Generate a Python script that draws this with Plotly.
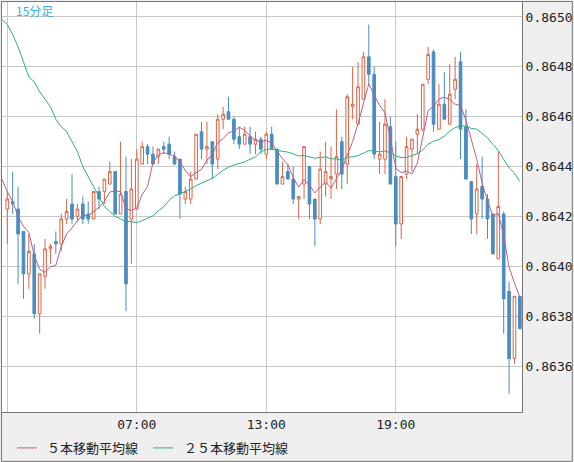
import pandas as pd
import plotly.graph_objects as go

# ---------------- data (15-minute bars) ----------------
START = "2024-01-15 01:00"
N_BARS = 96

opens = [0.86423, 0.86426, 0.86423, 0.86414, 0.86397, 0.86405, 0.86381, 0.86396, 0.86407, 0.86410,
         0.86409, 0.86419, 0.86425, 0.86420, 0.86425, 0.86421, 0.86419, 0.86430, 0.86430, 0.86433,
         0.86438, 0.86421, 0.86430, 0.86419, 0.86423, 0.86441, 0.86448, 0.86445, 0.86444, 0.86448,
         0.86449, 0.86444, 0.86443, 0.86427, 0.86427, 0.86435, 0.86454, 0.86447, 0.86450, 0.86443,
         0.86459, 0.86462, 0.86459, 0.86452, 0.86449, 0.86452, 0.86449, 0.86451, 0.86445, 0.86453,
         0.86447, 0.86433, 0.86438, 0.86435, 0.86427, 0.86433, 0.86440, 0.86427, 0.86419, 0.86433,
         0.86435, 0.86437, 0.86450, 0.86441, 0.86464, 0.86457, 0.86467, 0.86484, 0.86477, 0.86443,
         0.86443, 0.86456, 0.86436, 0.86417, 0.86437, 0.86447, 0.86453, 0.86455, 0.86475, 0.86486,
         0.86455, 0.86465, 0.86457, 0.86471, 0.86482, 0.86456, 0.86434, 0.86421, 0.86432, 0.86427,
         0.86421, 0.86403, 0.86421, 0.86390, 0.86363, 0.86388]

highs = [0.86430, 0.86438, 0.86432, 0.86414, 0.86413, 0.86409, 0.86397, 0.86411, 0.86409, 0.86414,
         0.86421, 0.86427, 0.86437, 0.86425, 0.86428, 0.86426, 0.86430, 0.86432, 0.86435, 0.86442,
         0.86438, 0.86450, 0.86444, 0.86443, 0.86447, 0.86450, 0.86449, 0.86448, 0.86447, 0.86450,
         0.86452, 0.86446, 0.86443, 0.86432, 0.86438, 0.86453, 0.86458, 0.86458, 0.86450, 0.86461,
         0.86464, 0.86468, 0.86460, 0.86456, 0.86456, 0.86456, 0.86454, 0.86452, 0.86454, 0.86456,
         0.86447, 0.86442, 0.86441, 0.86440, 0.86428, 0.86448, 0.86440, 0.86427, 0.86446, 0.86450,
         0.86448, 0.86463, 0.86452, 0.86469, 0.86480, 0.86482, 0.86486, 0.86497, 0.86480, 0.86458,
         0.86467, 0.86460, 0.86450, 0.86436, 0.86452, 0.86451, 0.86461, 0.86473, 0.86488, 0.86487,
         0.86473, 0.86478, 0.86481, 0.86484, 0.86486, 0.86463, 0.86434, 0.86441, 0.86444, 0.86429,
         0.86421, 0.86446, 0.86422, 0.86394, 0.86388, 0.86388]

lows = [0.86409, 0.86421, 0.86393, 0.86387, 0.86391, 0.86379, 0.86373, 0.86391, 0.86401, 0.86405,
        0.86406, 0.86417, 0.86417, 0.86418, 0.86417, 0.86417, 0.86419, 0.86423, 0.86425, 0.86433,
        0.86421, 0.86421, 0.86382, 0.86401, 0.86423, 0.86441, 0.86441, 0.86441, 0.86441, 0.86445,
        0.86443, 0.86441, 0.86419, 0.86425, 0.86425, 0.86435, 0.86443, 0.86441, 0.86435, 0.86439,
        0.86455, 0.86459, 0.86449, 0.86447, 0.86449, 0.86445, 0.86445, 0.86445, 0.86443, 0.86447,
        0.86433, 0.86433, 0.86435, 0.86425, 0.86419, 0.86427, 0.86419, 0.86408, 0.86417, 0.86428,
        0.86427, 0.86431, 0.86431, 0.86433, 0.86459, 0.86457, 0.86467, 0.86473, 0.86443, 0.86437,
        0.86437, 0.86433, 0.86408, 0.86411, 0.86435, 0.86438, 0.86445, 0.86454, 0.86473, 0.86454,
        0.86455, 0.86459, 0.86457, 0.86467, 0.86443, 0.86435, 0.86413, 0.86413, 0.86419, 0.86411,
        0.86405, 0.86403, 0.86373, 0.86349, 0.86361, 0.86375]

closes = [0.86427, 0.86425, 0.86413, 0.86397, 0.86406, 0.86381, 0.86397, 0.86407, 0.86408, 0.86409,
          0.86419, 0.86422, 0.86419, 0.86423, 0.86419, 0.86419, 0.86430, 0.86427, 0.86435, 0.86438,
          0.86421, 0.86429, 0.86393, 0.86431, 0.86443, 0.86448, 0.86445, 0.86441, 0.86447, 0.86447,
          0.86445, 0.86441, 0.86429, 0.86430, 0.86435, 0.86453, 0.86447, 0.86448, 0.86441, 0.86459,
          0.86461, 0.86459, 0.86451, 0.86449, 0.86453, 0.86449, 0.86451, 0.86447, 0.86453, 0.86447,
          0.86433, 0.86436, 0.86435, 0.86427, 0.86428, 0.86448, 0.86425, 0.86419, 0.86439, 0.86438,
          0.86436, 0.86444, 0.86437, 0.86468, 0.86465, 0.86472, 0.86484, 0.86477, 0.86445, 0.86445,
          0.86457, 0.86433, 0.86417, 0.86436, 0.86448, 0.86451, 0.86455, 0.86473, 0.86485, 0.86457,
          0.86465, 0.86459, 0.86469, 0.86475, 0.86455, 0.86435, 0.86419, 0.86431, 0.86427, 0.86419,
          0.86405, 0.86424, 0.86387, 0.86363, 0.86388, 0.86375]

# moving-average values read from the picture where earlier history is off-chart
# (first point = the bar before 01:00)
ma5_head = [0.86435, 0.86430, 0.86426, 0.86420, 0.86416]
ma25_head = [0.86499, 0.86497, 0.86493, 0.86488, 0.86482, 0.86476, 0.86474, 0.86470, 0.86467,
             0.86464, 0.86459, 0.86456, 0.86454, 0.86450, 0.86446, 0.86440, 0.86436, 0.86432,
             0.86428, 0.86424, 0.86422, 0.86420, 0.86419, 0.86418, 0.86418]

y_ticks = [0.8636, 0.8638, 0.8640, 0.8642, 0.8644, 0.8646, 0.8648, 0.8650]
y_tick_labels = ["0.8636", "0.8638", "0.8640", "0.8642", "0.8644", "0.8646", "0.8648", "0.8650"]
x_ticks = ["2024-01-15 01:00", "2024-01-15 07:00", "2024-01-15 13:00", "2024-01-15 19:00"]
x_tick_labels = ["", "07:00", "13:00", "19:00"]

timeframe_label = "15分足"
ma5_name = "５本移動平均線"
ma25_name = "２５本移動平均線"

# ---------------- derived series ----------------
times = pd.date_range(START, periods=N_BARS, freq="15min")
times_ma = [times[0] - pd.Timedelta(minutes=15)] + list(times)
close_s = pd.Series(closes)
ma5 = ma5_head + list(close_s.rolling(5).mean().iloc[4:])
ma25 = ma25_head + list(close_s.rolling(25).mean().iloc[24:])

# ---------------- styling ----------------
RED = "#dc6446"
BLUE = "#4a8cc0"
PINK = "#b65e8e"
GREEN = "#2bb07a"
GRID = "#c8c8c8"
BORDER = "#777777"
PANEL = "#efefef"
MONO = "DejaVu Sans Mono"
CJK = "Noto Sans CJK JP"

W, H = 574, 462
ML, MR, MT, MB = 1, 51, 1, 50
PW, PH = W - ML - MR, H - MT - MB


def px_x(px):
    return (px - ML) / PW


def px_y(py):
    return (H - MB - py) / PH


fig = go.Figure()
fig.add_trace(go.Candlestick(
    x=times, open=opens, high=highs, low=lows, close=closes,
    increasing=dict(line=dict(color=RED, width=1), fillcolor="white"),
    decreasing=dict(line=dict(color=BLUE, width=1), fillcolor=BLUE),
    whiskerwidth=0, showlegend=False, hoverinfo="skip",
))
fig.add_trace(go.Scatter(x=times_ma, y=ma5, mode="lines", name=ma5_name,
                         line=dict(color=PINK, width=1), showlegend=False, hoverinfo="skip"))
fig.add_trace(go.Scatter(x=times_ma, y=ma25, mode="lines", name=ma25_name,
                         line=dict(color=GREEN, width=1), showlegend=False, hoverinfo="skip"))

shapes = [
    # outer frame of the widget
    dict(type="rect", xref="paper", yref="paper",
         x0=px_x(0.5), x1=px_x(W - 0.5), y0=px_y(H - 0.5), y1=px_y(0.5),
         line=dict(color=BORDER, width=1), layer="above"),
    # legend samples
    dict(type="line", xref="paper", yref="paper",
         x0=px_x(16), x1=px_x(36), y0=px_y(448), y1=px_y(448),
         line=dict(color=PINK, width=1)),
    dict(type="line", xref="paper", yref="paper",
         x0=px_x(153), x1=px_x(173), y0=px_y(448), y1=px_y(448),
         line=dict(color=GREEN, width=1)),
]

annotations = [
    dict(text=timeframe_label, xref="paper", yref="paper", x=px_x(13), y=px_y(10),
         xanchor="left", yanchor="middle", showarrow=False,
         font=dict(family=CJK, size=12, color="#3aaee6")),
    dict(text=ma5_name, xref="paper", yref="paper", x=px_x(44), y=px_y(448),
         xanchor="left", yanchor="middle", showarrow=False,
         font=dict(family=CJK, size=13, color="#222222")),
    dict(text=ma25_name, xref="paper", yref="paper", x=px_x(182), y=px_y(448),
         xanchor="left", yanchor="middle", showarrow=False,
         font=dict(family=CJK, size=13, color="#222222")),
]

fig.update_layout(
    width=W, height=H,
    margin=dict(l=ML, r=MR, t=MT, b=MB, pad=0),
    paper_bgcolor=PANEL, plot_bgcolor="white",
    showlegend=False,
    shapes=shapes, annotations=annotations,
    xaxis=dict(
        type="date",
        range=["2024-01-15 00:45:19", "2024-01-16 00:50:53"],
        tickvals=x_ticks, ticktext=x_tick_labels,
        showgrid=True, gridcolor=GRID, gridwidth=1,
        showline=True, linecolor=BORDER, linewidth=1, mirror=True,
        ticks="", zeroline=False,
        tickfont=dict(family=MONO, size=13, color="#222222"),
        rangeslider=dict(visible=False),
        fixedrange=True,
    ),
    yaxis=dict(
        side="right",
        range=[0.863416, 0.865060],
        tickvals=y_ticks, ticktext=y_tick_labels,
        showgrid=True, gridcolor=GRID, gridwidth=1,
        showline=True, linecolor=BORDER, linewidth=1, mirror=True,
        ticks="", zeroline=False,
        tickfont=dict(family=MONO, size=13, color="#222222"),
        fixedrange=True,
    ),
)

fig.write_html(
    "out.html",
    config=dict(displayModeBar=False),
    post_script="document.body.style.margin='0';document.body.style.overflow='hidden';",
)
